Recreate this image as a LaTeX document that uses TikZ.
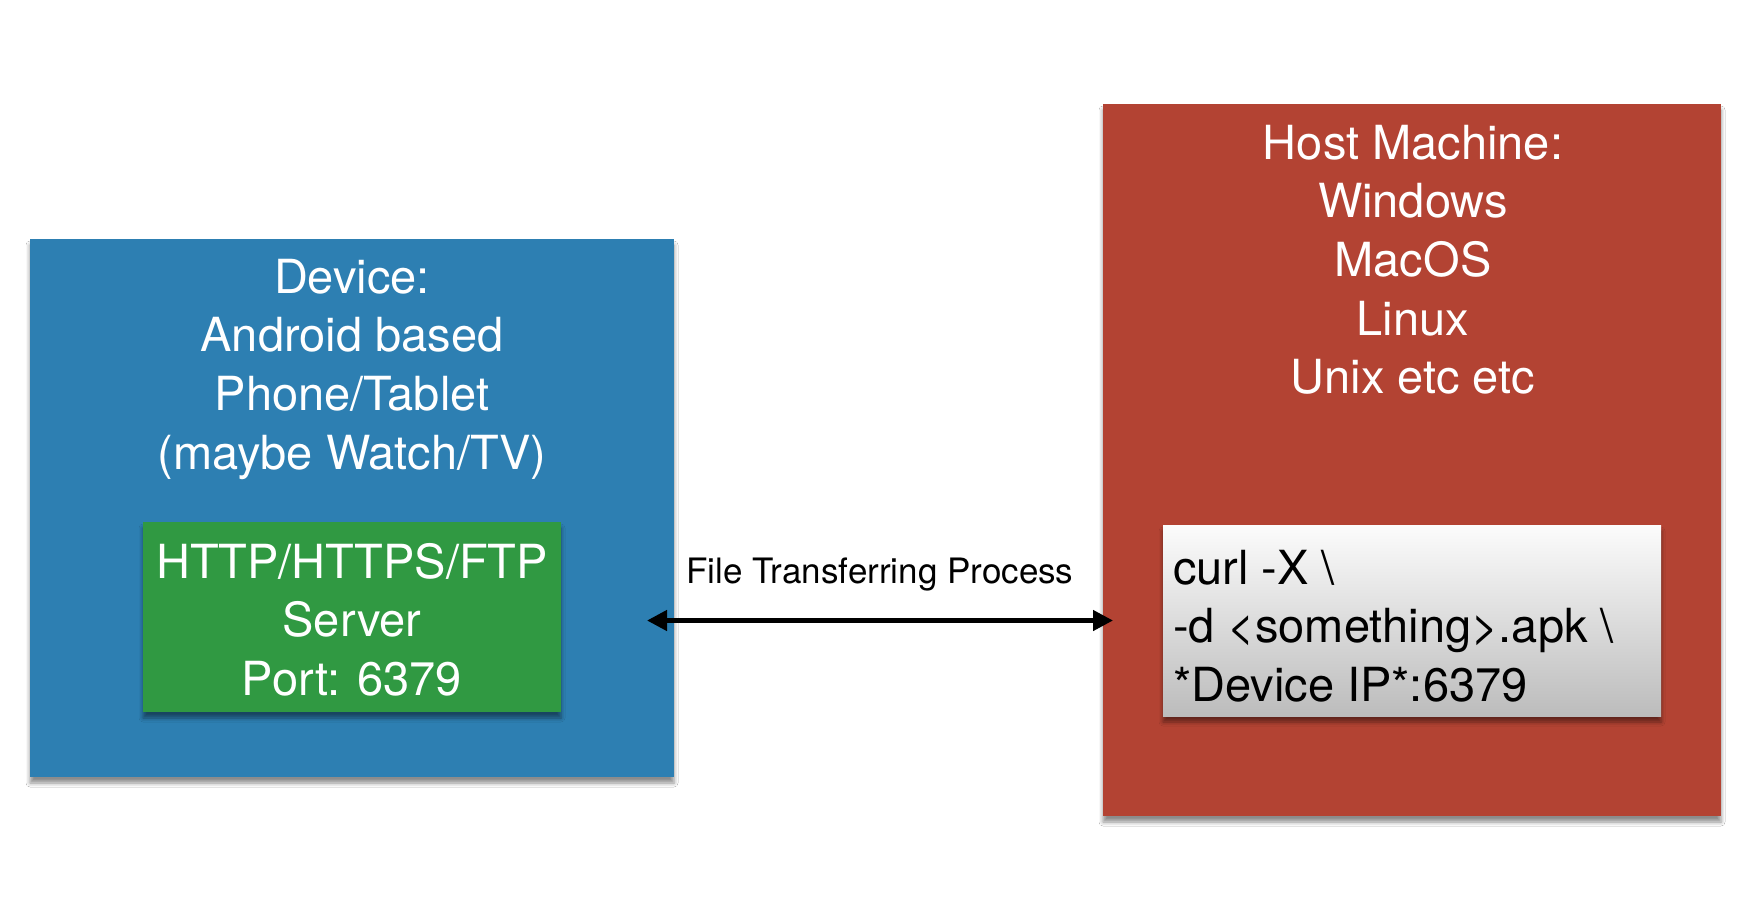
\documentclass[tikz,border=0pt]{standalone}
\usepackage{fontspec}
\setmainfont{TeX Gyre Heros}
\usetikzlibrary{arrows.meta,shadows.blur}
\definecolor{devblue}{RGB}{45,127,178}
\definecolor{hostred}{RGB}{179,67,51}
\definecolor{srvgreen}{RGB}{48,153,66}
\definecolor{cmdtop}{RGB}{252,252,252}
\definecolor{cmdbot}{RGB}{188,188,188}
\begin{document}
\begin{tikzpicture}[x=1pt,y=-1pt,
  panel/.style={draw=none, inner sep=0pt, outer sep=0pt,
    blur shadow={shadow xshift=0pt, shadow yshift=-6pt, shadow blur radius=4pt, shadow opacity=45}},
  bigtext/.style={font=\fontsize{47}{58.7}\selectfont, inner sep=0pt, outer sep=0pt},
  whitetext/.style={bigtext, text=white, align=center, anchor=north},
  cmdtext/.style={bigtext, text=black, align=left, anchor=north west},
  duplex/.style={line width=4.5pt,
    arrows={Triangle[length=20pt,width=20pt]-Triangle[length=20pt,width=20pt]}},
  flowlabel/.style={font=\fontsize{35}{42}\selectfont, text=black, inner sep=0pt}
]
\useasboundingbox (0,0) rectangle (1760,902);
\fill[white] (0,0) rectangle (1760,902);

% Device panel
\node[panel, fill=devblue, minimum width=644pt, minimum height=538pt] (dev) at (352,508) {};
\node[whitetext] (devtxt) at (352,252) {\strut Device:\\Android based\\Phone/Tablet\\(maybe Watch/TV)};

% Server panel
\node[panel, fill=srvgreen, minimum width=418pt, minimum height=190pt] (srv) at (352,617) {};
\node[whitetext] (srvtxt) at (352,537) {\strut HTTP/HTTPS/FTP\\Server\\Port: 6379};

% Host panel
\node[panel, fill=hostred, minimum width=618pt, minimum height=712pt] (host) at (1412,460) {};
\node[whitetext] (hosttxt) at (1413,118) {\strut Host Machine:\\Windows\\MacOS\\Linux\\Unix etc etc};

% Command panel
\node[panel, top color=cmdtop, bottom color=cmdbot, minimum width=498pt, minimum height=191pt] (cmd) at (1412,620.5) {};
\node[cmdtext] (cmdtxt) at (1173,543) {\strut curl -X \textbackslash\\-d <something>.apk \textbackslash\\*Device IP*:6379};

% Transfer connector
\draw[duplex, shorten <=86pt, shorten >=50pt] (srv.east |- cmd.west) -- (cmd.west)
  node[flowlabel, midway, anchor=base, xshift=18pt, yshift=36.8pt] (flow) {File Transferring Process};
\end{tikzpicture}
\end{document}
